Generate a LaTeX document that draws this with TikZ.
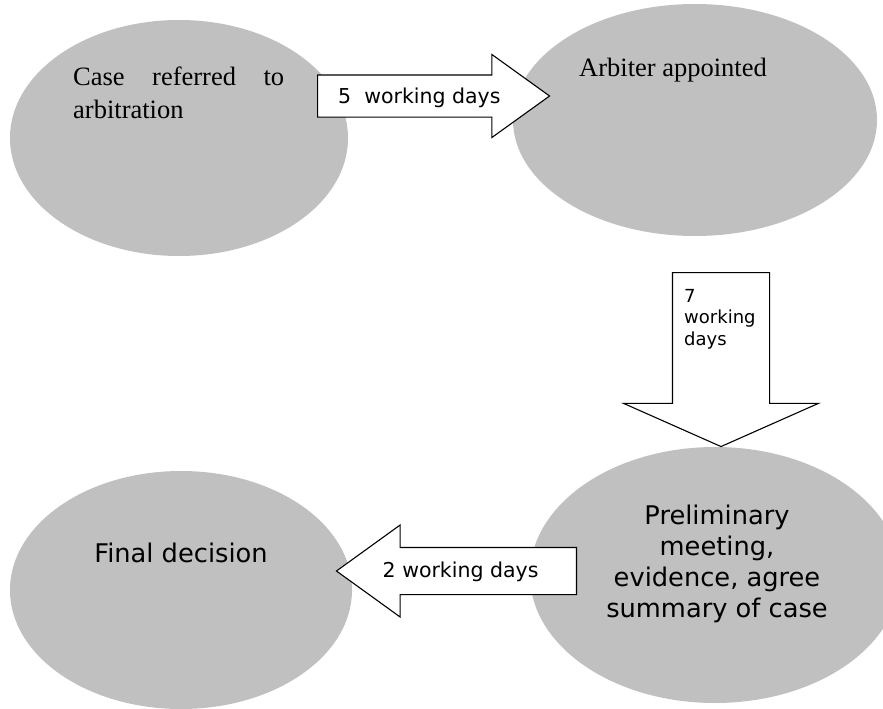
\documentclass[tikz,border=0pt]{standalone}
\usepackage{fontspec}
\setmainfont{Liberation Serif}
\newfontfamily\labelfont{DejaVu Sans}
\usetikzlibrary{shapes.geometric,shapes.arrows}
\definecolor{bubblegray}{RGB}{192,192,192}

\begin{document}
\begin{tikzpicture}[x=1pt,y=-1pt]
  \tikzstyle{bubble}=[ellipse,fill=bubblegray,inner sep=0pt];
  \tikzstyle{blockarrow}=[single arrow,draw=black,fill=white,line width=1.1pt,single arrow head indent=0pt,anchor=tail];
  \tikzstyle{serifnote}=[inner sep=0pt,font=\fontsize{26.5}{33}\selectfont];
  \tikzstyle{sansnote}=[inner sep=0pt,font=\labelfont\fontsize{25.7}{31}\selectfont];
  \tikzstyle{daylabel}=[inner sep=0pt,font=\labelfont\fontsize{20.5}{24}\selectfont];

  % page
  \useasboundingbox (0,0) rectangle (883,709);
  \clip (0,0) rectangle (883,709);
  \fill[white] (0,0) rectangle (883,709);

  % stages
  \node[bubble,minimum width=338pt,minimum height=236pt] (referred) at (179,138) {};
  \node[bubble,minimum width=364pt,minimum height=232pt] (appointed) at (695,120) {};
  \node[bubble,minimum width=370pt,minimum height=256pt] (meeting) at (715,575) {};
  \node[bubble,minimum width=342pt,minimum height=238pt] (final) at (181,590) {};

  % stage texts
  \node[serifnote,text width=211pt,align=left,anchor=north west,xshift=-106pt,yshift=71pt] (referredtext) at (referred.center) {Case\hfill referred\hfill to\\arbitration};
  \node[serifnote,anchor=base west,xshift=-116pt,yshift=43pt] (appointedtext) at (appointed.center) {Arbiter appointed};
  \node[sansnote,align=center,anchor=north,xshift=2pt,yshift=70.5pt] (meetingtext) at (meeting.center) {Preliminary\\meeting,\\evidence, agree\\summary of case};
  \node[sansnote,anchor=base,yshift=28pt] (finaltext) at (final.center) {Final decision};

  % block arrows
  \node[blockarrow,minimum height=232pt,inner sep=20.5pt,single arrow head extend=20.5pt,single arrow tip angle=71.5] (fivedays) at (317,96) {};
  \node[blockarrow,shape border rotate=270,minimum height=174pt,inner sep=48pt,single arrow head extend=49pt,single arrow tip angle=132.2] (sevendays) at (721,272) {};
  \node[blockarrow,shape border rotate=180,minimum height=240pt,inner sep=23pt,single arrow head extend=22.5pt,single arrow tip angle=71.7] (twodays) at (577,571) {};

  % arrow labels
  \node[daylabel,anchor=base west,xshift=21pt,yshift=-7pt] (fivetext) at (fivedays.tail) {5\ \ working days};
  \node[daylabel,font=\labelfont\fontsize{18}{21.5}\selectfont,align=left,anchor=north west,xshift=-37pt,yshift=-17pt] (seventext) at (sevendays.tail) {7\\working\\days};
  \node[daylabel,anchor=base west,xshift=47pt,yshift=-6pt] (twotext) at (twodays.tip) {2 working days};
\end{tikzpicture}
\end{document}
